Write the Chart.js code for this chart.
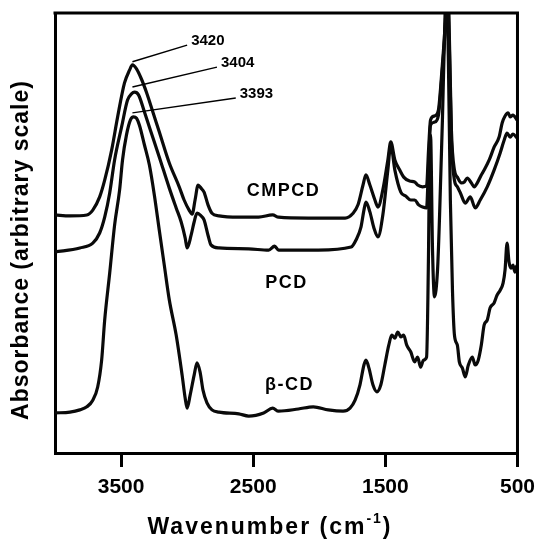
<!DOCTYPE html>
<html>
<head>
<meta charset="utf-8">
<script src="https://cdn.jsdelivr.net/npm/chart.js@4.4.1/dist/chart.umd.min.js"></script>
<style>
html, body { margin: 0; padding: 0; background: #fff; }
canvas { display: block; }
</style>
</head>
<body>
<canvas id="ir" width="543" height="540"></canvas>
<script>
'use strict'
// FTIR spectra: wavenumber (cm-1) and absorbance (arbitrary, offset)
const cmpcdWn = [4000,3887,3759,3714,3662,3624,3571,3526,3474,3436,3414,3383,3346,3308,3286,3211,3135,3060,3023,2985,2962,2940,2917,2895,2872,2842,2812,2759,2609,2459,2353,2308,2083,1805,1744,1707,1669,1647,1617,1579,1556,1519,1481,1459,1428,1391,1361,1316,1278,1256,1218,1188,1173,1158,1128,1098,1083,1060,1045,1030,1015,1000,977,955,925,902,880,850,827,804,774,752,714,677,639,616,594,571,556,534,504];
const cmpcdAbs = [54.1,53.9,54.1,55.2,58.2,62.0,68.9,76.4,84.1,87.0,88.2,87.3,85.0,82.0,80.0,73.0,65.9,60.5,57.5,55.2,54.3,57.5,60.9,60.2,59.3,56.4,54.5,53.9,53.6,53.6,54.1,53.6,53.4,53.4,54.5,56.4,60.9,63.2,60.9,57.5,55.9,59.8,66.6,70.7,66.6,64.3,62.7,61.8,61.6,60.9,60.5,60.7,68.9,75.7,76.6,78.0,82.5,91.6,98.4,107.5,93.9,73.4,64.3,62.7,61.4,61.6,62.5,61.4,60.5,61.4,63.2,64.3,66.6,69.5,71.8,75.0,76.6,77.3,76.4,76.8,75.7];

const pcdWn = [4000,3812,3714,3662,3624,3586,3549,3496,3451,3421,3398,3368,3323,3286,3211,3135,3083,3045,3015,3000,2970,2947,2925,2895,2872,2842,2820,2759,2534,2383,2338,2308,2008,1759,1722,1684,1662,1647,1617,1586,1556,1519,1481,1459,1428,1383,1346,1308,1278,1248,1218,1188,1173,1158,1128,1098,1083,1060,1045,1030,1015,1000,977,955,932,895,857,820,782,729,677,631,601,579,556,534,504];
const pcdAbs = [45.7,46.6,47.7,50.0,53.6,59.1,66.6,74.1,80.2,81.6,82.0,81.4,77.5,74.1,67.3,60.2,55.7,52.5,48.9,46.6,49.5,52.5,54.5,53.9,53.0,49.5,47.3,46.6,46.4,46.1,47.0,46.1,46.1,46.8,48.4,51.4,55.2,57.0,54.8,51.1,49.1,54.1,64.3,70.0,64.3,59.3,58.4,57.5,57.5,56.4,55.9,55.7,65.5,74.5,75.2,76.8,81.4,90.5,97.3,107.5,91.6,71.1,62.0,60.5,59.1,56.8,58.2,55.7,57.5,60.5,64.3,68.2,71.1,72.7,71.8,72.5,71.6];

const bcdWn = [4000,3887,3812,3759,3714,3677,3647,3624,3586,3549,3511,3489,3459,3429,3406,3383,3361,3323,3286,3248,3211,3173,3135,3083,3038,3015,3000,2977,2947,2925,2902,2880,2850,2812,2759,2609,2534,2421,2353,2308,2158,2045,1932,1820,1767,1729,1692,1662,1647,1624,1594,1564,1534,1504,1474,1451,1428,1406,1383,1361,1338,1308,1278,1256,1233,1211,1188,1173,1165,1158,1143,1128,1105,1090,1068,1053,1038,1023,1008,992,977,955,940,917,895,872,842,820,797,774,752,729,707,677,654,631,609,594,579,564,549,534,519,504];
const bcdAbs = [9.1,9.3,9.8,10.5,12.0,15.0,21.1,30.2,40.9,51.8,59.8,66.6,72.3,75.7,76.4,76.1,74.5,70.0,65.5,58.6,50.7,42.7,34.8,26.8,17.7,12.5,10.2,13.2,17.7,20.5,18.4,14.3,11.4,9.8,9.3,8.9,8.4,9.1,10.2,9.5,10.0,10.5,9.8,9.5,10.2,12.0,15.5,20.0,21.1,19.3,15.5,13.9,15.5,20.0,24.5,26.8,26.1,27.5,26.4,26.8,24.5,23.0,20.7,21.8,19.5,21.1,21.8,46.1,68.9,72.3,46.1,35.5,41.6,53.6,75.7,93.9,107.5,89.3,57.5,37.0,26.8,24.5,20.7,19.3,17.3,20.0,21.8,20.0,21.1,24.5,29.1,30.2,33.0,34.1,35.9,37.0,38.6,41.6,47.7,43.4,42.0,42.7,41.1,42.7];

const xTicks = [3500, 2500, 1500, 500];

// curve names and where they sit (wavenumber, absorbance)
const seriesNames = ['CMPCD', 'PCD', '\u03b2-CD'];
const nameWn = [2271, 2248, 2226];
const nameAbs = [59.5, 38.6, 15.5];

// O-H band maxima: label, leader start (wn, abs), leader end (wn, abs)
const peakTexts = ['3420', '3404', '3393'];
const peakFromWn = [3414, 3414, 3414];
const peakFromAbs = [88.9, 83.2, 77.3];
const peakToWn = [3000, 2774, 2632];
const peakToAbs = [92.7, 87.7, 80.7];

const FONT = '"Liberation Sans", Arial, sans-serif';

function toPoints(xs, ys) {
    return xs.map((x, i) => ({ x: x, y: ys[i] }));
}

function spaced(ctx, txt, x, y, spacing) {
    ctx.letterSpacing = spacing + 'px';
    ctx.fillText(txt, x, y);
    ctx.letterSpacing = '0px';
}

const decor = {
    id: 'decor',
    afterDraw(chart) {
        const { ctx, chartArea: a, scales: { x, y } } = chart;
        ctx.save();
        ctx.strokeStyle = '#000';
        ctx.lineWidth = 3;
        ctx.beginPath();
        ctx.moveTo(a.left - 1.5, a.top);
        ctx.lineTo(a.right, a.top);
        ctx.lineTo(a.right, a.bottom + 1.5);
        ctx.stroke();

        ctx.fillStyle = '#000';
        ctx.textBaseline = 'middle';

        // leader lines + peak positions
        ctx.lineWidth = 1.5;
        ctx.font = 'bold 15px ' + FONT;
        ctx.textAlign = 'left';
        peakTexts.forEach((t, i) => {
            const x0 = x.getPixelForValue(peakFromWn[i]), y0 = y.getPixelForValue(peakFromAbs[i]);
            const x1 = x.getPixelForValue(peakToWn[i]), y1 = y.getPixelForValue(peakToAbs[i]);
            ctx.beginPath();
            ctx.moveTo(x0, y0);
            ctx.lineTo(x1, y1);
            ctx.stroke();
            ctx.fillText(t, x1 + 4, y1 - 4);
        });

        // curve names
        ctx.font = 'bold 18px ' + FONT;
        ctx.textAlign = 'center';
        seriesNames.forEach((n, i) => {
            spaced(ctx, n, x.getPixelForValue(nameWn[i]), y.getPixelForValue(nameAbs[i]), 1.5);
        });

        // x title with superscript
        ctx.font = 'bold 23px ' + FONT;
        ctx.textAlign = 'left';
        ctx.letterSpacing = '2px';
        const main = 'Wavenumber (cm';
        const w1 = ctx.measureText(main).width;
        ctx.font = 'bold 14px ' + FONT;
        const w2 = ctx.measureText('-1').width;
        ctx.font = 'bold 23px ' + FONT;
        const w3 = ctx.measureText(')').width;
        let tx = 270 - (w1 + w2 + w3) / 2;
        const ty = 528;
        ctx.fillText(main, tx, ty);
        ctx.font = 'bold 14px ' + FONT;
        ctx.fillText('-1', tx + w1, ty - 9);
        ctx.font = 'bold 23px ' + FONT;
        ctx.fillText(')', tx + w1 + w2, ty);
        ctx.letterSpacing = '0px';

        // y title
        ctx.save();
        ctx.translate(22, 250);
        ctx.rotate(-Math.PI / 2);
        ctx.textAlign = 'center';
        ctx.font = 'bold 23px ' + FONT;
        spaced(ctx, 'Absorbance (arbitrary scale)', 0, 0, 1);
        ctx.restore();

        ctx.restore();
    }
};

const lineStyle = {
    borderColor: '#0a0a0a',
    borderWidth: 3.2,
    pointRadius: 0,
    fill: false,
    cubicInterpolationMode: 'monotone'
};

new Chart(document.getElementById('ir'), {
    type: 'line',
    data: {
        datasets: [
            Object.assign({ label: seriesNames[0], data: toPoints(cmpcdWn, cmpcdAbs) }, lineStyle),
            Object.assign({ label: seriesNames[1], data: toPoints(pcdWn, pcdAbs) }, lineStyle),
            Object.assign({ label: seriesNames[2], data: toPoints(bcdWn, bcdAbs) }, lineStyle)
        ]
    },
    options: {
        responsive: false,
        animation: false,
        devicePixelRatio: 1,
        layout: { padding: { top: 13, right: 23, left: 0, bottom: 0 } },
        plugins: { legend: { display: false }, tooltip: { enabled: false } },
        scales: {
            x: {
                type: 'linear',
                reverse: true,
                min: 500,
                max: 4000,
                afterBuildTicks: s => { s.ticks = xTicks.map(v => ({ value: v })); },
                afterFit: s => { s.height = 87; },
                grid: { drawOnChartArea: false, drawTicks: true, tickLength: 14, lineWidth: 3, color: '#000' },
                border: { display: true, width: 3, color: '#000' },
                ticks: {
                    color: '#000',
                    padding: 8,
                    maxRotation: 0,
                    font: { family: FONT, size: 21, weight: 'bold' },
                    callback: v => String(v)
                }
            },
            y: {
                min: 0,
                max: 100,
                afterFit: s => { s.width = 55; },
                grid: { display: false },
                border: { display: true, width: 3, color: '#000' },
                ticks: { display: false }
            }
        }
    },
    plugins: [decor]
});
</script>
</body>
</html>
